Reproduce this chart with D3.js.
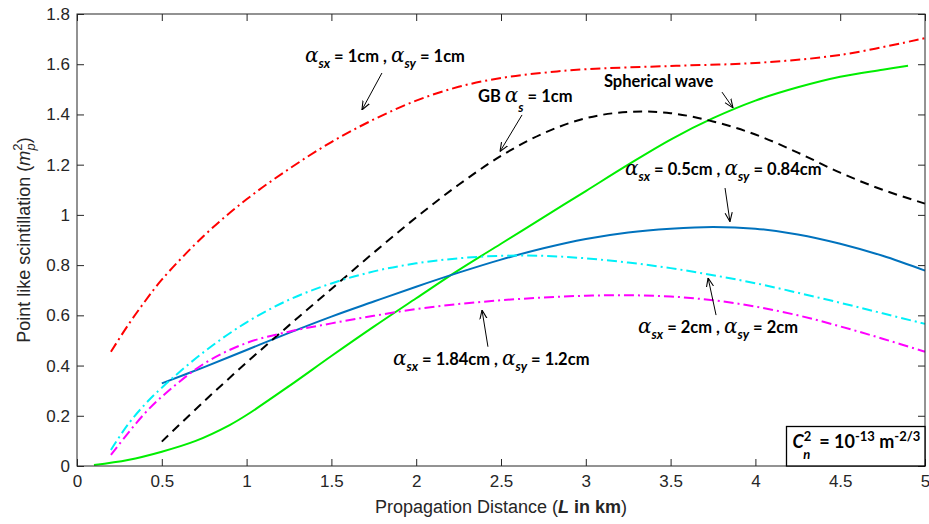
<!DOCTYPE html>
<html>
<head>
<meta charset="utf-8">
<script src="https://cdn.jsdelivr.net/npm/d3@7"></script>
<style>
  html, body { margin: 0; padding: 0; background: #fff; }
  svg { display: block; }
</style>
</head>
<body>
<svg id="chart"></svg>
<script>
// ---- data ----
var xTicks = [0, 0.5, 1, 1.5, 2, 2.5, 3, 3.5, 4, 4.5, 5];
var yTicks = [0, 0.2, 0.4, 0.6, 0.8, 1, 1.2, 1.4, 1.6, 1.8];

// alpha_sx = 1cm, alpha_sy = 1cm
var red = [[0.2,0.455],[0.3,0.56],[0.4,0.655],[0.5,0.742],[0.75,0.918],[1,1.062],[1.25,1.183],[1.5,1.29],
  [1.75,1.38],[2,1.455],[2.25,1.51],[2.5,1.545],[2.75,1.566],[3,1.58],[3.5,1.593],[4,1.605],[4.5,1.637],[5,1.704]];
// GB alpha_s = 1cm
var black = [[0.5,0.097],[0.75,0.258],[1,0.412],[1.25,0.56],[1.5,0.705],[1.75,0.85],[2,0.99],[2.25,1.12],
  [2.5,1.235],[2.75,1.325],[3,1.385],[3.25,1.41],[3.5,1.405],[3.75,1.372],[4,1.32],[4.25,1.248],[4.5,1.168],
  [4.75,1.10],[5,1.045]];
// spherical wave
var green = [[0.1,0.004],[0.3,0.024],[0.5,0.057],[0.7,0.10],[0.9,0.163],[1,0.203],[1.25,0.318],[1.5,0.438],
  [1.75,0.555],[2,0.668],[2.25,0.78],[2.5,0.885],[2.75,0.99],[3,1.095],[3.25,1.2],[3.5,1.3],[3.75,1.385],
  [4,1.455],[4.25,1.508],[4.5,1.55],[4.75,1.578],[4.9,1.594]];
// alpha_sx = 0.5cm, alpha_sy = 0.84cm
var blue = [[0.5,0.329],[0.75,0.394],[1,0.462],[1.25,0.53],[1.5,0.595],[1.75,0.655],[2,0.714],[2.25,0.77],
  [2.5,0.822],[2.75,0.867],[3,0.904],[3.25,0.93],[3.5,0.945],[3.75,0.952],[4,0.945],[4.25,0.922],[4.5,0.885],
  [4.75,0.837],[5,0.778]];
// alpha_sx = 2cm, alpha_sy = 2cm
var cyan = [[0.2,0.064],[0.3,0.165],[0.4,0.245],[0.5,0.312],[0.75,0.455],[1,0.572],[1.25,0.662],[1.5,0.727],
  [1.75,0.775],[2,0.807],[2.25,0.827],[2.5,0.837],[2.75,0.837],[3,0.827],[3.25,0.81],[3.5,0.788],[3.75,0.76],
  [4,0.728],[4.25,0.69],[4.5,0.65],[4.75,0.608],[5,0.566]];
// alpha_sx = 1.84cm, alpha_sy = 1.2cm
var magenta = [[0.2,0.044],[0.3,0.13],[0.4,0.21],[0.5,0.276],[0.75,0.408],[1,0.49],[1.25,0.535],[1.5,0.568],
  [1.75,0.598],[2,0.625],[2.25,0.645],[2.5,0.66],[2.75,0.671],[3,0.678],[3.25,0.68],[3.5,0.675],[3.75,0.66],
  [4,0.635],[4.25,0.6],[4.5,0.556],[4.75,0.507],[5,0.455]];

var series = [
  {data: green,   color: "#00ee00", dash: null},
  {data: blue,    color: "#0072bd", dash: null},
  {data: black,   color: "#000000", dash: "9,6"},
  {data: cyan,    color: "#00f0f8", dash: "10,4,2,4"},
  {data: magenta, color: "#ff00ff", dash: "10,4,2,4"},
  {data: red,     color: "#ff0000", dash: "10,4,2,4"}
];

// annotation labels: text start [x,y] and arrow from/to, in data units
var labels = [
  {at: [1.344, 1.609], sx: "1cm",    sy: "1cm",   from: [1.798, 1.565], to: [1.680, 1.418]},
  {at: [3.231, 1.159], sx: "0.5cm",  sy: "0.84cm", from: [3.821, 1.107], to: [3.850, 0.973]},
  {at: [3.308, 0.530], sx: "2cm",    sy: "2cm",   from: [3.768, 0.601], to: [3.721, 0.749]},
  {at: [1.863, 0.402], sx: "1.84cm", sy: "1.2cm", from: [2.423, 0.475], to: [2.388, 0.621]}
];
var gbLabel = {at: [2.364, 1.451], from: [2.624, 1.398], to: [2.494, 1.252]};
var sphLabel = {at: [3.107, 1.511], from: [3.803, 1.489], to: [3.868, 1.426]};

// ---- layout ----
var W = 929, H = 524;
var margin = {top: 14, right: 4, bottom: 58, left: 77};
var txt = "#262626";
var sans = "'Liberation Sans', Arial, sans-serif";
var bold = "Lato, 'Liberation Sans', sans-serif";

var svg = d3.select("#chart").attr("width", W).attr("height", H)
  .style("font-family", sans);

var x = d3.scaleLinear().domain([0, 5]).range([margin.left, W - margin.right]);
var y = d3.scaleLinear().domain([0, 1.8]).range([H - margin.bottom, margin.top]);

svg.append("rect").attr("width", W).attr("height", H).attr("fill", "#fff");

svg.append("defs").append("marker")
  .attr("id", "arrow").attr("viewBox", "0 0 10 10")
  .attr("refX", 10).attr("refY", 5)
  .attr("markerWidth", 9).attr("markerHeight", 9)
  .attr("markerUnits", "userSpaceOnUse")
  .attr("orient", "auto")
  .append("path").attr("d", "M0,1 L10,5 L0,9")
  .attr("fill", "none").attr("stroke", "#000").attr("stroke-width", 1.2);

// curves
var line = d3.line()
  .x(function(d) { return x(d[0]); })
  .y(function(d) { return y(d[1]); })
  .curve(d3.curveCatmullRom.alpha(0.5));

series.forEach(function(s) {
  svg.append("path")
    .datum(s.data)
    .attr("fill", "none")
    .attr("stroke", s.color)
    .attr("stroke-width", 2)
    .attr("stroke-dasharray", s.dash)
    .attr("d", line);
});

// axes, MATLAB-style inward ticks on all four sides
var tk = 7;
function styleAxis(g) {
  g.select(".domain").remove();
  g.selectAll(".tick line").attr("stroke", txt);
  g.selectAll(".tick text").attr("fill", txt).style("font-size", "17px").style("font-family", sans);
}
svg.append("g").attr("transform", "translate(0," + y(0) + ")")
  .call(d3.axisBottom(x).tickValues(xTicks).tickSizeInner(-tk).tickSizeOuter(0).tickPadding(9)
    .tickFormat(d3.format("")))
  .call(styleAxis);
svg.append("g").attr("transform", "translate(0," + y(1.8) + ")")
  .call(d3.axisTop(x).tickValues(xTicks).tickSizeInner(-tk).tickSizeOuter(0).tickFormat(""))
  .call(styleAxis);
svg.append("g").attr("transform", "translate(" + x(0) + ",0)")
  .call(d3.axisLeft(y).tickValues(yTicks).tickSizeInner(-tk).tickSizeOuter(0).tickPadding(7)
    .tickFormat(d3.format("")))
  .call(styleAxis);
svg.append("g").attr("transform", "translate(" + x(5) + ",0)")
  .call(d3.axisRight(y).tickValues(yTicks).tickSizeInner(-tk).tickSizeOuter(0).tickFormat(""))
  .call(styleAxis);

svg.append("rect")
  .attr("x", x(0)).attr("y", y(1.8))
  .attr("width", x(5) - x(0)).attr("height", y(0) - y(1.8))
  .attr("fill", "none").attr("stroke", txt).attr("stroke-width", 1);

// axis titles
var xl = svg.append("text")
  .attr("x", (x(0) + x(5)) / 2).attr("y", 513)
  .attr("text-anchor", "middle").attr("fill", txt)
  .style("font-size", "18px");
xl.append("tspan").text("Propagation Distance (");
xl.append("tspan").attr("font-style", "italic").attr("font-weight", "bold").text("L");
xl.append("tspan").attr("font-weight", "bold").text(" in km");
xl.append("tspan").text(")");

var yl = svg.append("text")
  .attr("transform", "translate(30," + ((y(0) + y(1.8)) / 2) + ") rotate(-90)")
  .attr("text-anchor", "middle").attr("fill", txt)
  .style("font-size", "18px");
yl.append("tspan").text("Point like scintillation  (");
yl.append("tspan").attr("font-style", "italic").text("m");
yl.append("tspan").attr("dy", -8).style("font-size", "13px").text("2");
yl.append("tspan").attr("dx", -7).attr("dy", 13).attr("font-style", "italic").style("font-size", "13px").text("p");
yl.append("tspan").attr("dy", -5).text(")");

// annotations
function arrow(a) {
  svg.append("line")
    .attr("x1", x(a.from[0])).attr("y1", y(a.from[1]))
    .attr("x2", x(a.to[0])).attr("y2", y(a.to[1]))
    .attr("stroke", "#000").attr("stroke-width", 1)
    .attr("marker-end", "url(#arrow)");
}
function alpha(t, sub, drop) {
  t.append("tspan").attr("font-family", "'DejaVu Serif', serif").attr("font-style", "italic")
    .attr("font-weight", "normal").style("font-size", "20px").text("\u03b1");
  t.append("tspan").attr("dy", drop).attr("font-style", "italic").style("font-size", "13px").text(sub);
}
function labelText(at) {
  return svg.append("text")
    .attr("x", x(at[0])).attr("y", y(at[1]))
    .attr("font-family", bold).attr("font-weight", "bold")
    .style("font-size", "16.5px").attr("fill", "#000");
}

labels.forEach(function(l) {
  var t = labelText(l.at);
  alpha(t, "sx", 6);
  t.append("tspan").attr("dy", -6).text(" = " + l.sx + " , ");
  alpha(t, "sy", 6);
  t.append("tspan").attr("dy", -6).text(" = " + l.sy);
  arrow(l);
});

var gb = labelText(gbLabel.at);
gb.append("tspan").text("GB ");
alpha(gb, "s", 10);
gb.append("tspan").attr("dy", -10).text(" = 1cm");
arrow(gbLabel);

labelText(sphLabel.at).text("Spherical wave");
arrow(sphLabel);

// C_n^2 box
var bx = 786.5;
svg.append("rect")
  .attr("x", bx).attr("y", 426.5)
  .attr("width", x(5) - bx).attr("height", y(0) - 426.5)
  .attr("fill", "#fff").attr("stroke", "#000").attr("stroke-width", 1.3);
var cn = svg.append("text")
  .attr("x", bx + 6).attr("y", 448)
  .attr("font-family", bold).attr("font-weight", "bold")
  .style("font-size", "18px").attr("fill", "#000");
cn.append("tspan").attr("font-style", "italic").text("C");
cn.append("tspan").attr("dy", -7).style("font-size", "13px").text("2");
cn.append("tspan").attr("dx", -8).attr("dy", 18).attr("font-style", "italic").style("font-size", "13px").text("n");
cn.append("tspan").attr("dy", -11).attr("dx", 9).text("= 10");
cn.append("tspan").attr("dy", -7).style("font-size", "13px").text("-13");
cn.append("tspan").attr("dy", 7).text(" m");
cn.append("tspan").attr("dy", -7).style("font-size", "13px").text("-2/3");
</script>
</body>
</html>
